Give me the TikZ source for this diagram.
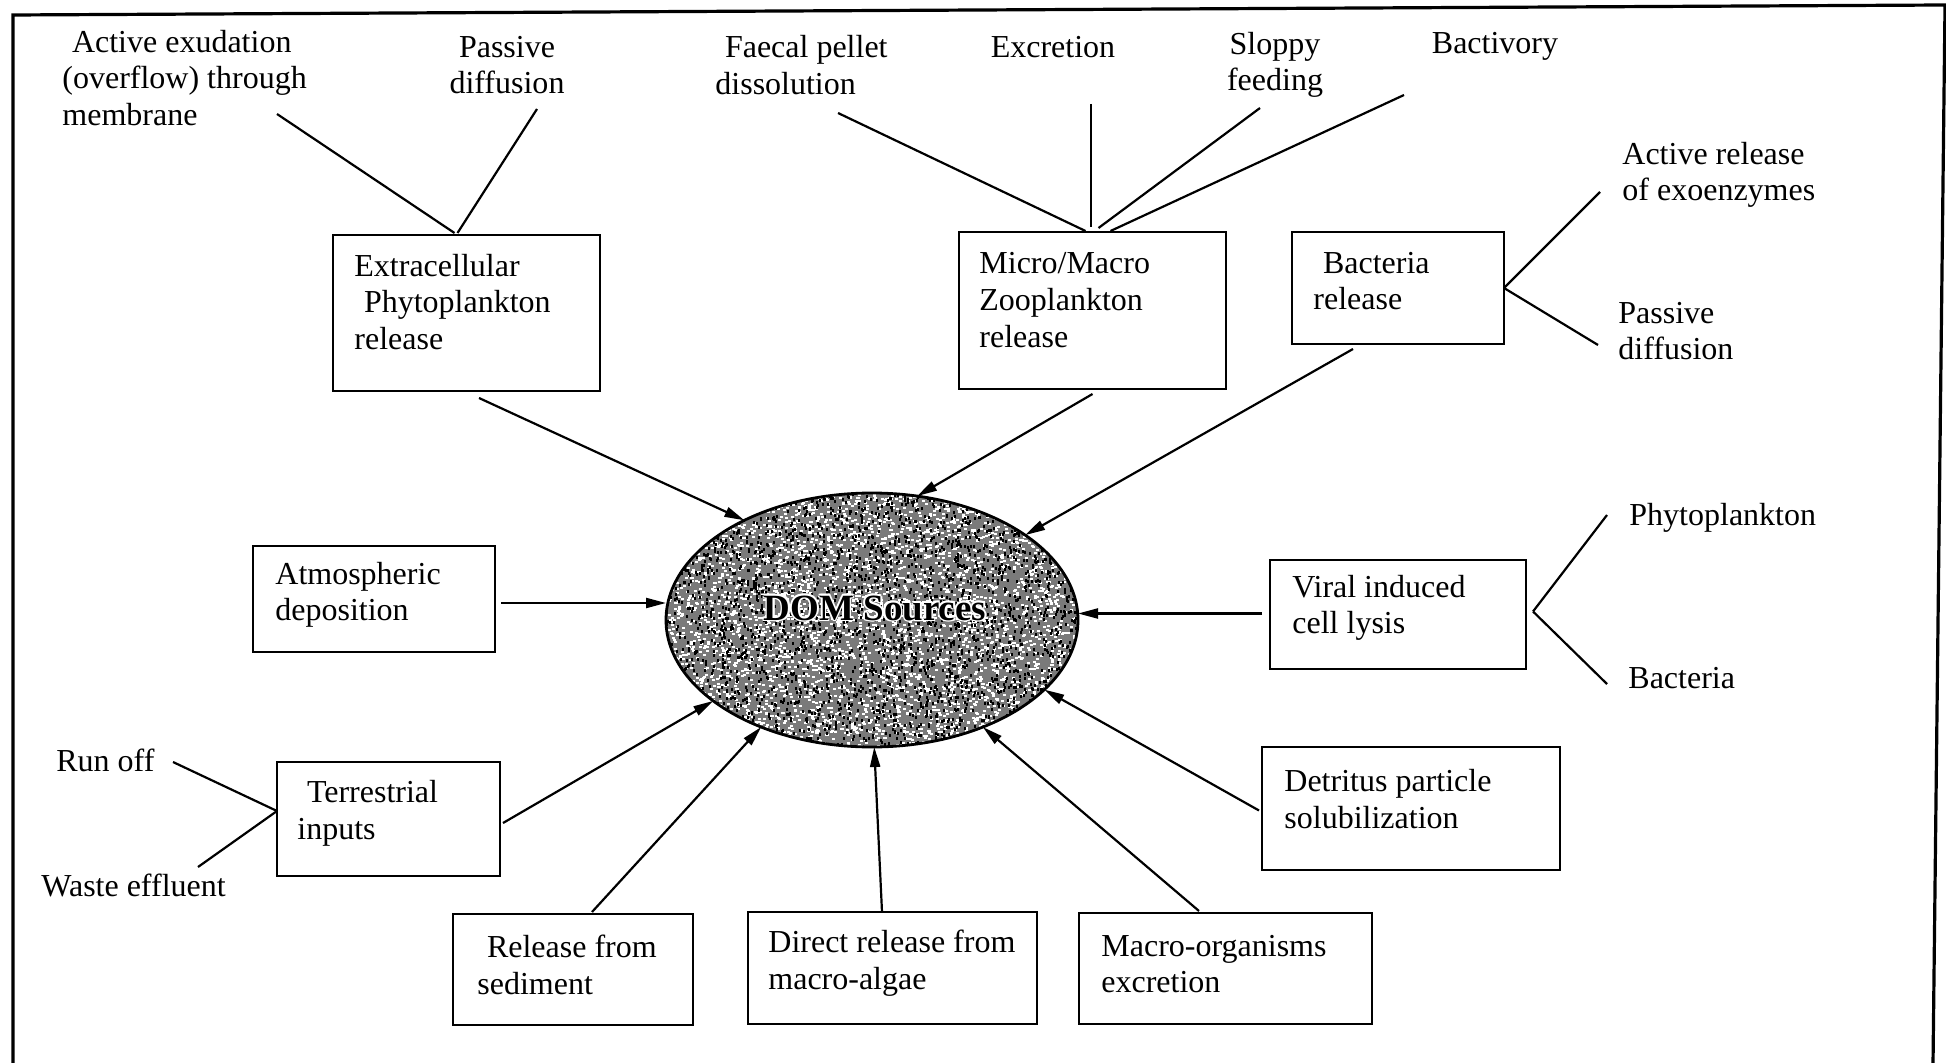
\documentclass[tikz,border=0pt]{standalone}
\usepackage{fontspec}
\setmainfont{Liberation Serif}
\usetikzlibrary{arrows.meta,calc,shapes.geometric}
\begin{document}
\begin{tikzpicture}[x=0.5pt,y=-0.5pt,
  box/.style={draw, line width=1.4pt, inner sep=0pt, outer sep=0pt},
  txt/.style={font=\fontsize{16}{18.3}\selectfont, inner sep=0pt, align=left, anchor=west},
  ctxt/.style={font=\fontsize{16}{18.3}\selectfont, inner sep=0pt, align=center},
  con/.style={line width=1.1pt},
  arr/.style={line width=1.1pt, -{Triangle[length=10pt,width=5pt]}},
  domnode/.style={ellipse, draw, line width=1.4pt, minimum width=206pt, minimum height=127pt, inner sep=0pt, outer sep=0pt},
  domtxt/.style={font=\fontsize{18.5}{20}\selectfont\bfseries, inner sep=0pt},
]
\useasboundingbox (0,0) rectangle (1946,1063);
\fill[white] (0,0) rectangle (1946,1063);
% outer frame
\coordinate (fbl) at (13,1063);
\coordinate (ftl) at (13,15);
\coordinate (ftr) at (1945,5);
\coordinate (fbr) at (1933,1063);
\draw[line width=1.6pt] (fbl) -- (ftl) -- (ftr) -- (fbr);

% textured ellipse
\begin{scope}
  \clip (872,620) ellipse [x radius=103pt, y radius=63.5pt];
  \fill[black!52] (872,620) ellipse [x radius=103pt, y radius=63.5pt];
  \pgfmathsetseed{7}
  \foreach \k in {1,...,4500}{
    \pgfmathsetmacro{\px}{666+412*rnd}
    \pgfmathsetmacro{\py}{493+254*rnd}
    \fill[white] (\px,\py) rectangle ++(3,2);
  }
  \foreach \k in {1,...,3000}{
    \pgfmathsetmacro{\px}{666+412*rnd}
    \pgfmathsetmacro{\py}{493+254*rnd}
    \fill[black] (\px,\py) rectangle ++(2,3);
  }
\end{scope}
\node[domnode] (dom) at (872,620) {};
\foreach \dx/\dy in {1.6/0,-1.6/0,0/1.6,0/-1.6,1.2/1.2,-1.2/1.2,1.2/-1.2,-1.2/-1.2}
  \node[domtxt, text=white] at ($(875,608)+(\dx,\dy)$) {DOM Sources};
\node[domtxt] (domlbl) at (875,608) {DOM Sources};

% boxes
\node[box, minimum width=133.5pt, minimum height=78pt]   (ext) at (466.5,313) {};
\node[box, minimum width=133.5pt, minimum height=78.5pt] (zoo) at (1092.5,310.5) {};
\node[box, minimum width=106pt,   minimum height=56pt]   (bac) at (1398,288) {};
\node[box, minimum width=121pt,   minimum height=53pt]   (atm) at (374,599) {};
\node[box, minimum width=128pt,   minimum height=54.5pt] (vir) at (1398,614.5) {};
\node[box, minimum width=111.5pt, minimum height=57pt]   (ter) at (388.5,819) {};
\node[box, minimum width=149pt,   minimum height=61.5pt] (det) at (1411,808.5) {};
\node[box, minimum width=120pt,   minimum height=55.5pt] (sed) at (573,969.5) {};
\node[box, minimum width=144.5pt, minimum height=56pt]   (alg) at (892.5,968) {};
\node[box, minimum width=146.5pt, minimum height=55.5pt] (mor) at (1225.5,968.5) {};

% box texts
\node[txt] (extT) at (354,302) {Extracellular\\\hspace{.3em}Phytoplankton\\release};
\node[txt] (zooT) at (979,300) {Micro/Macro\\Zooplankton\\release};
\node[txt] (bacT) at (1313,281) {\hspace{.3em}Bacteria\\release};
\node[txt] (atmT) at (275,595) {Atmospheric\\deposition};
\node[txt] (virT) at (1292,608) {Viral induced\\cell lysis};
\node[txt] (terT) at (297,813) {\hspace{.3em}Terrestrial\\inputs};
\node[txt] (detT) at (1284,799) {Detritus particle\\solubilization};
\node[txt] (sedT) at (477,965) {\hspace{.3em}Release from\\sediment};
\node[txt] (algT) at (768,963) {Direct release from\\macro-algae};
\node[txt] (morT) at (1101,964) {Macro-organisms\\excretion};

% outer labels
\node[txt]  (exu) at (62,78) {\hspace{.3em}Active exudation\\(overflow) through\\membrane};
\node[ctxt] (pd1) at (507,65) {Passive\\diffusion};
\node[txt]  (fae) at (715,65) {\hspace{.3em}Faecal pellet\\dissolution};
\node[ctxt] (exc) at (1053,47) {Excretion};
\node[ctxt] (slo) at (1275,65) {Sloppy\\feeding};
\node[ctxt] (bct) at (1495,46) {Bactivory};
\node[txt]  (are) at (1622,175) {Active release\\of exoenzymes};
\node[txt]  (pd2) at (1618,331) {Passive\\diffusion};
\node[txt]  (phy) at (1629,518) {Phytoplankton};
\node[txt]  (bcl) at (1628,678) {Bacteria};
\node[txt]  (run) at (56,760) {Run off};
\node[txt]  (was) at (41,885) {Waste effluent};

% free ends of plain connectors
\coordinate (exu-e) at (277,114);
\coordinate (pd1-e) at (537,109);
\coordinate (fae-e) at (838,113);
\coordinate (exc-e) at (1091,104);
\coordinate (slo-e) at (1260,108);
\coordinate (bct-e) at (1404,95);
\coordinate (are-e) at (1600,192);
\coordinate (pd2-e) at (1598,345);
\coordinate (phy-e) at (1607,515);
\coordinate (bcl-e) at (1607,684);
\coordinate (run-e) at (173,762);
\coordinate (was-e) at (198,867);

% plain connectors
\draw[con] (exu-e) -- ($(ext.north)+(-12,-2)$);
\draw[con] (pd1-e) -- ($(ext.north)+(-9,-2)$);
\draw[con] (fae-e) -- ($(zoo.north)+(-7,-1)$);
\draw[con] (exc-e) -- ($(zoo.north)+(-1.5,-5)$);
\draw[con] (slo-e) -- ($(zoo.north)+(6,-4)$);
\draw[con] (bct-e) -- ($(zoo.north)+(18,-1)$);
\draw[con] (bac.east) -- (are-e);
\draw[con] (bac.east) -- (pd2-e);
\coordinate (vir-j) at ($(vir.east)+(7,-3)$);
\draw[con] (vir-j) -- (phy-e);
\draw[con] (vir-j) -- (bcl-e);
\coordinate (ter-j) at ($(ter.west)+(0,-8)$);
\draw[con] (ter-j) -- (run-e);
\draw[con] (ter-j) -- (was-e);

% arrows into DOM
\draw[arr] ($(ext.south)+(12.5,7)$) -- (dom.142);
\draw[arr] ($(zoo.south)+(0,5)$) -- (dom.70);
\draw[arr] ($(bac.south)+(-45,5)$) -- (dom.29);
\coordinate (atm-s) at ($(atm.east)+(6,4)$);
\draw[arr] (atm-s) -- (atm-s -| dom.west);
\coordinate (vir-s) at ($(vir.west)+(-8,-1)$);
\draw[arr] (vir-s) -- (vir-s -| dom.east);
\draw[arr] ($(ter.east)+(3,4)$) -- (dom.207);
\draw[arr] ($(sed.north)+(19,-2)$) -- (dom.224);
\draw[arr] ($(alg.north)+(-10.5,0)$) -- (dom.271);
\draw[arr] ($(mor.north)+(-26.5,-2)$) -- (dom.316);
\draw[arr] ($(det.west)+(-3,2)$) -- (dom.338);
\end{tikzpicture}
\end{document}
